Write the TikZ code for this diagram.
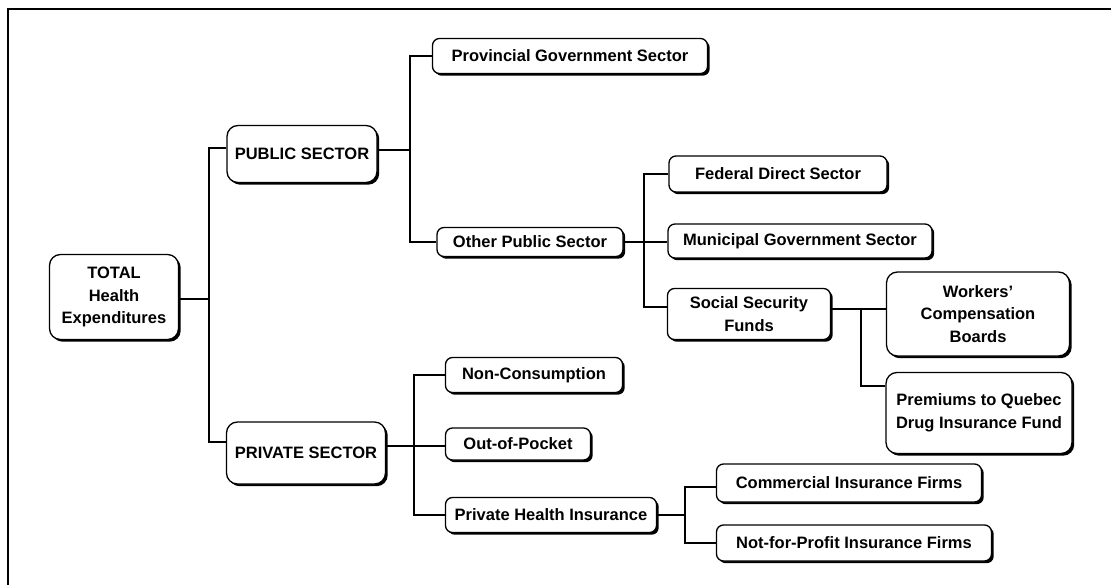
\documentclass[tikz,border=0pt]{standalone}
\usepackage{fontspec}
\setmainfont{Liberation Sans}
\usetikzlibrary{shadows}
\begin{document}
\begin{tikzpicture}[x=1pt,y=-1pt,
  box/.style={draw, line width=1.3pt, fill=white, rounded corners=7pt, align=center,
    inner sep=0pt, font=\bfseries\fontsize{16.5}{22.5}\selectfont,
    drop shadow={shadow xshift=2.2pt, shadow yshift=-2.2pt, fill=black, opacity=1}},
  bigbox/.style={box, rounded corners=11pt},
  link/.style={line width=1.4pt}]
\useasboundingbox (0,0) rectangle (1111,585);
\draw[line width=2.6pt] (8,585) -- (8,9) -- (1111,9);

\node[bigbox, minimum width=129pt, minimum height=85pt] (total) at (114,297) {TOTAL\\Health\\Expenditures};
\node[bigbox, minimum width=150pt, minimum height=57pt] (public) at (302,154) {PUBLIC SECTOR};
\node[bigbox, minimum width=159pt, minimum height=62pt] (private) at (306,453) {PRIVATE SECTOR};
\node[box, minimum width=275pt, minimum height=35pt] (prov) at (570,56) {Provincial Government Sector};
\node[box, minimum width=186pt, minimum height=29pt] (other) at (530,242) {Other Public Sector};
\node[box, minimum width=218pt, minimum height=36pt] (fed) at (778,174) {Federal Direct Sector};
\node[box, minimum width=264pt, minimum height=34pt] (muni) at (800,241) {Municipal Government Sector};
\node[box, minimum width=163pt, minimum height=51pt] (ssf) at (749,314) {Social Security\\Funds};
\node[bigbox, minimum width=183pt, minimum height=84pt] (wcb) at (978,314) {Workers'\\Compensation\\Boards};
\node[bigbox, minimum width=186pt, minimum height=81pt] (prem) at (979,413) {Premiums to Quebec\\Drug Insurance Fund};
\node[box, minimum width=177pt, minimum height=35pt] (noncons) at (534,375) {Non-Consumption};
\node[box, minimum width=145pt, minimum height=32pt] (oop) at (518,444) {Out-of-Pocket};
\node[box, minimum width=211pt, minimum height=35pt] (phi) at (551,515) {Private Health Insurance};
\node[box, minimum width=265pt, minimum height=38pt] (comm) at (849,483) {Commercial Insurance Firms};
\node[box, minimum width=275pt, minimum height=36pt] (nfp) at (854,543) {Not-for-Profit Insurance Firms};

\coordinate (t1) at (209,0);
\coordinate (t2) at (410,0);
\coordinate (t3) at (644,0);
\coordinate (t4) at (861,0);
\coordinate (t5) at (414,0);
\coordinate (t6) at (685,0);

% level 1
\draw[link] ([yshift=6pt]public.west) -- ([yshift=6pt]public.west -| t1) |- ([yshift=11pt]private.west);
\draw[link] ([yshift=-2pt]total.east) -- ([yshift=-2pt]total.east -| t1);
% public branch
\draw[link] (prov.west) -- (prov.west -| t2) |- (other.west);
\draw[link] ([yshift=4pt]public.east) -- ([yshift=4pt]public.east -| t2);
% other public branch
\draw[link] (fed.west) -- (fed.west -| t3) |- ([yshift=7pt]ssf.west);
\draw[link] (other.east) -- (other.east -| muni.west);
% social security branch
\draw[link] ([yshift=5pt]ssf.east) -- ([yshift=5pt]ssf.east -| wcb.west);
\draw[link] ([yshift=5pt]ssf.east -| t4) |- ([yshift=-14pt]prem.north west);
% private branch
\draw[link] (noncons.west) -- (noncons.west -| t5) |- (phi.west);
\draw[link] ([yshift=7pt]private.east) -- ([yshift=7pt]private.east -| oop.west);
% private health insurance branch
\draw[link] ([yshift=-4pt]comm.west) -- ([yshift=-4pt]comm.west -| t6) |- (nfp.west);
\draw[link] (phi.east) -- (phi.east -| t6);
\end{tikzpicture}
\end{document}
